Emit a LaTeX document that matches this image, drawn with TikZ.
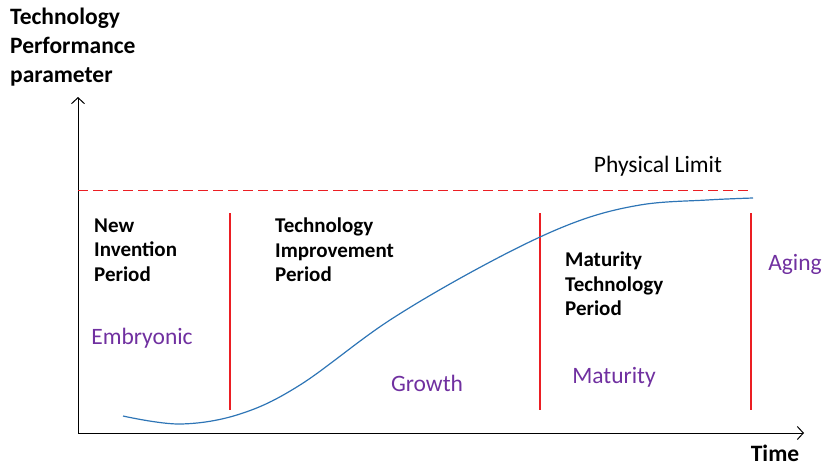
\documentclass[tikz,border=0pt]{standalone}
\usepackage{fontspec}
\setmainfont{Carlito}
\usetikzlibrary{arrows.meta}
\definecolor{limitred}{RGB}{235,30,35}
\definecolor{stagepurple}{RGB}{112,48,160}
\definecolor{curveblue}{RGB}{46,117,182}
\newcommand{\clrstage}{stagepurple}

\begin{document}
\begin{tikzpicture}[x=1pt, y=-1pt,
    axis/.style={line width=1pt, -{Straight Barb[length=6pt,width=13pt]}},
    period/.style={font=\bfseries\fontsize{21}{24.5}\selectfont, align=left, anchor=west, inner sep=0pt},
    stage/.style={font=\fontsize{23.5}{28}\selectfont, text=\clrstage, inner sep=0pt},
    divider/.style={limitred, line width=1.1pt}]
    \useasboundingbox (0,0) rectangle (826,467);

    %axes
        \coordinate (origin) at (78,433);
        \coordinate (ytop) at (78,97);
        \coordinate (xend) at (804,433);
        \draw[axis] (origin) -- (ytop);
        \draw[axis] (origin) -- (xend);
        \node[font=\bfseries\fontsize{23.5}{29}\selectfont, align=left, anchor=north west, inner sep=0pt] (ylabel) at (10,8) {Technology\\Performance\\parameter};
        \node[font=\bfseries\fontsize{23.5}{28}\selectfont, inner sep=0pt] (xlabel) at (775,453) {Time};

    %physical limit
        \coordinate (limstart) at (78,190);
        \coordinate (limend) at (750,190);
        \draw[limitred, line width=1pt, dash pattern=on 10pt off 5pt] (limstart) -- (limend);
        \node[font=\fontsize{23.5}{28}\selectfont, inner sep=0pt] (limit) at (658,166) {Physical Limit};

    %period borders
        \foreach \x [count=\i] in {230,540,751} {
            \coordinate (top\i) at (\x,213);
            \coordinate (bot\i) at (\x,410);
            \draw[divider] (top\i) -- (bot\i);
        }

    %s-curve
        \draw[curveblue, line width=1.2pt] plot[smooth, tension=0.6] coordinates
            {(123,416) (180,424) (240,414) (300,385) (390,320) (490,262) (573,223) (640,205) (707,200) (753,198)};

    %periods
        \node[period] (newinv) at (94,250) {New\\Invention\\Period};
        \node[period] (improve) at (275,250) {Technology\\Improvement\\Period};
        \node[period] (mature) at (565,284) {Maturity\\Technology\\Period};

    %stages
        \node[stage] (embryo) at (142,338) {Embryonic};
        \node[stage] (growth) at (427,383) {Growth};
        \node[stage] (maturity) at (614,377) {Maturity};
        \node[stage] (aging) at (795,264) {Aging};
\end{tikzpicture}
\end{document}
